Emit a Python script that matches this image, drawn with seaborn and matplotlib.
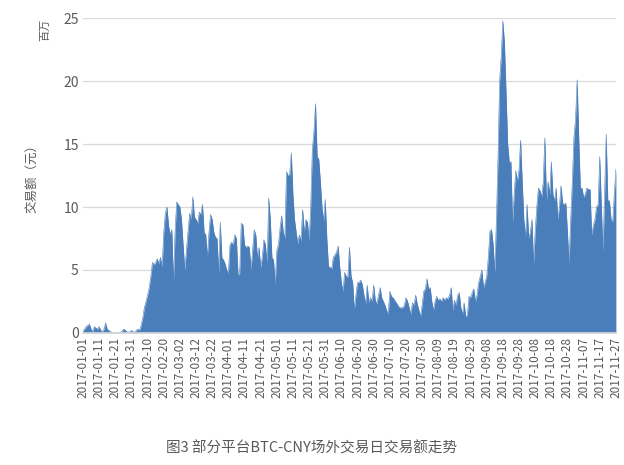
import numpy as np
import pandas as pd
import matplotlib
matplotlib.use("Agg")
import matplotlib.pyplot as plt
import seaborn as sns

start_date = "2017-01-01"
values = [
 0.2,0.3,0.5,0.6,0.7,0.3,0.1,0.5,0.4,0.3,
 0.5,0.2,0.1,0.3,0.8,0.3,0.2,0.1,0.05,0.05,
 0.05,0.05,0.0,0.05,0.1,0.3,0.25,0.1,0.05,0.1,
 0.2,0.1,0.05,0.2,0.3,0.2,0.6,1.2,2.0,2.5,
 3.0,3.6,4.5,5.6,5.4,5.6,5.9,5.5,6.0,5.2,
 8.0,9.5,10.0,8.5,7.8,8.2,4.0,8.0,10.4,10.2,
 10.0,9.0,7.0,5.0,6.5,8.0,9.5,9.0,10.8,9.2,
 9.0,8.7,9.6,9.4,10.2,8.0,7.8,6.0,8.0,9.4,
 9.0,8.0,7.6,7.5,4.8,8.8,6.0,5.8,5.5,5.0,
 4.7,7.0,7.2,7.0,7.8,7.5,4.6,4.7,8.7,8.6,
 7.0,6.8,6.9,6.8,5.0,6.5,8.2,7.8,6.0,6.8,
 5.2,6.0,7.4,7.0,5.5,10.7,9.0,6.0,5.8,3.8,
 6.5,7.0,8.3,9.3,8.0,7.5,12.8,12.5,12.6,14.3,
 11.0,9.0,8.0,7.1,7.8,7.3,9.8,8.0,9.0,8.8,
 7.3,10.0,14.5,16.0,18.2,14.0,13.8,12.0,10.0,8.9,
 10.6,7.5,5.3,5.2,5.1,6.0,6.2,6.4,6.9,5.2,
 4.0,3.3,4.8,4.5,4.4,6.8,4.5,4.0,1.8,3.0,
 4.0,4.0,4.2,3.8,3.0,2.3,3.8,2.4,2.8,2.5,
 3.8,2.6,2.3,3.0,3.6,2.8,2.5,2.2,1.8,1.5,
 3.3,2.9,2.8,2.6,2.4,2.2,2.0,2.0,2.0,2.2,
 2.8,2.5,2.0,1.5,2.4,2.2,3.0,2.3,1.8,1.3,
 2.2,3.3,3.5,4.3,3.5,3.6,2.5,1.8,2.5,2.9,
 2.6,2.7,2.5,2.8,2.6,2.8,2.7,3.0,3.6,1.8,
 2.6,2.2,3.0,3.2,2.0,1.5,2.4,1.3,1.4,2.9,
 2.8,3.2,3.5,2.5,3.0,4.0,4.5,5.0,3.6,4.0,
 4.5,6.0,8.1,8.2,7.0,4.8,9.0,14.0,20.0,22.0,
 24.8,23.0,19.0,15.0,13.5,13.6,8.8,11.0,12.9,12.0,
 13.0,15.3,12.0,9.0,7.6,10.2,7.5,8.0,9.0,5.5,
 8.0,10.0,11.5,11.3,10.8,12.0,15.5,10.5,12.0,11.0,
 13.6,11.0,10.5,11.5,9.0,10.0,11.7,10.3,10.2,10.3,
 8.0,5.5,9.0,12.0,15.5,17.0,20.1,15.5,11.5,11.5,
 10.8,11.0,11.5,11.4,11.4,7.8,8.5,9.0,10.0,10.2,
 14.0,10.0,6.5,11.0,15.8,10.5,10.5,9.0,8.8,11.0,13.0,
]
yticks = [0, 5, 10, 15, 20, 25]
title = "图3 部分平台BTC-CNY场外交易日交易额走势"
ylabel = "交易额（元）"
unit = "百万"

sns.set_theme(style="white")
plt.rcParams['font.family'] = ['Noto Sans CJK SC', 'DejaVu Sans']

dates = pd.date_range(start_date, periods=len(values), freq="D")
df = pd.DataFrame({"date": dates, "value": values})
tick_dates = dates[::10]
tick_labels = [d.strftime("%Y-%m-%d") for d in tick_dates]

fig = plt.figure(figsize=(6.24, 4.65), dpi=100)
ax = fig.add_axes([0.133, 0.284, 0.854, 0.677])
color = "#4a7ebb"
sns.lineplot(data=df, x="date", y="value", ax=ax, color=color, linewidth=0.4)
ax.fill_between(df["date"], 0, df["value"], color=color, linewidth=0)
ax.set_xlim(dates[0], dates[-1])
ax.set_ylim(0, 25)
ax.set_yticks(yticks)
ax.set_yticklabels([str(t) for t in yticks], color="#595959", fontsize=10)
ax.set_xticks(tick_dates)
ax.set_xticklabels(tick_labels, rotation=90, fontsize=8.5, color="#595959")
ax.yaxis.grid(True, color="#d9d9d9", linewidth=0.9)
ax.set_axisbelow(True)
for s in ["top", "right", "left"]:
    ax.spines[s].set_visible(False)
ax.spines["bottom"].set_color("#d9d9d9")
ax.tick_params(axis="both", length=0, pad=3)
ax.set_xlabel("")
ax.set_ylabel(ylabel, color="#595959", fontsize=9, labelpad=18)
fig.text(0.072, 0.935, unit, rotation=90, color="#595959", fontsize=8, ha="center", va="center")
fig.text(0.5, 0.035, title, color="#595959", fontsize=10.5, ha="center", va="center")
fig.savefig("out.png", dpi=100)
